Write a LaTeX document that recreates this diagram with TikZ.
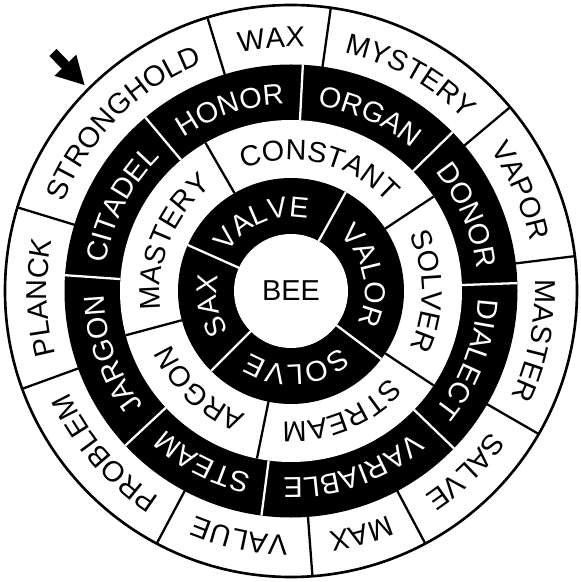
\documentclass[tikz,border=0pt]{standalone}
\usepackage{fontspec}
\setmainfont{Liberation Sans}
\usepackage{tikz}
\usetikzlibrary{arrows.meta, decorations.text}
\newcommand{\labelfont}{\fontsize{16.4}{19}\selectfont}
\tikzstyle{blackline} = [draw=black, line width=1.3pt]
\tikzstyle{whiteline} = [draw=white, line width=1.3pt]
\tikzstyle{rim}       = [draw=black, line width=1.5pt, fill=white]
\tikzstyle{arrow}     = [-{Triangle[length=16pt, width=16pt]}, line width=5.7pt]
\tikzset{ringtext/.style 2 args={decorate, decoration={text along path, text color=#1,
                         text align=center, text={|\labelfont|#2}}}}

\begin{document}
\begin{tikzpicture}[scale=0.02]
    \useasboundingbox (-291,-291) rectangle (289,291);

    % rings
    \draw[rim] (0,0) circle (286);
    \fill[black] (0,0) circle (226.5);
    \fill[white] (0,0) circle (171);
    \fill[black] (0,0) circle (113);
    \fill[white] (0,0) circle (57);

    % dividers
    \foreach \a in {7,40,82,107,163,200,242,274.3,298,330}
        \draw[blackline] (\a:226) -- (\a:286);
    \foreach \a in {2,44.5,87,130,176,223,262.5,316}
        \draw[whiteline] (\a:171) -- (\a:226.5);
    \foreach \a in {33.5,120,195,258.5,326.5}
        \draw[blackline] (\a:113) -- (\a:171);
    \foreach \a in {61,156,225,323}
        \draw[whiteline] (\a:57) -- (\a:113);

    \node (bee) at (0,0) {\labelfont BEE};

    % inner black ring
    \path[ringtext={white}{VALVE}] (160:74) arc (160:66:74);
    \path[ringtext={white}{VALOR}] (61:74) arc (61:-37:74);
    \path[ringtext={white}{SOLVE}] (-37:74) arc (-37:-135:74);
    \path[ringtext={white}{SAX}] (225:74) arc (225:156:74);

    % white ring
    \path[ringtext={black}{CONSTANT}] (120:131) arc (120:33.5:131);
    \path[ringtext={black}{SOLVER}] (33.5:131) arc (33.5:-33.5:131);
    \path[ringtext={black}{STREAM}] (-33.5:131) arc (-33.5:-101.5:131);
    \path[ringtext={black}{ARGON}] (258.5:131) arc (258.5:195:131);
    \path[ringtext={black}{MASTERY}] (195:131) arc (195:120:131);

    % outer black ring
    \path[ringtext={white}{ORGAN}] (87:187) arc (87:44.5:187);
    \path[ringtext={white}{DONOR}] (44.5:187) arc (44.5:2:187);
    \path[ringtext={white}{DIALECT}] (2:187) arc (2:-44:187);
    \path[ringtext={white}{VARIABLE}] (-44:187) arc (-44:-97.5:187);
    \path[ringtext={white}{STEAM}] (262.5:187) arc (262.5:223:187);
    \path[ringtext={white}{JARGON}] (223:187) arc (223:176:187);
    \path[ringtext={white}{CITADEL}] (176:187) arc (176:130:187);
    \path[ringtext={white}{HONOR}] (130:187) arc (130:87:187);

    % rim
    \path[ringtext={black}{WAX}] (107:244) arc (107:82:244);
    \path[ringtext={black}{MYSTERY}] (82:244) arc (82:40:244);
    \path[ringtext={black}{VAPOR}] (40:244) arc (40:7:244);
    \path[ringtext={black}{MASTER}] (7:244) arc (7:-30:244);
    \path[ringtext={black}{SALVE}] (-30:244) arc (-30:-62:244);
    \path[ringtext={black}{MAX}] (-62:244) arc (-62:-85.7:244);
    \path[ringtext={black}{VALUE}] (274.3:244) arc (274.3:242:244);
    \path[ringtext={black}{PROBLEM}] (242:244) arc (242:200:244);
    \path[ringtext={black}{PLANCK}] (200:244) arc (200:163:244);
    \path[ringtext={black}{STRONGHOLD}] (163:244) arc (163:107:244);

    \coordinate (tail) at (-238,238.5);
    \coordinate (tip) at (-206,205.5);
    \draw[arrow] (tail) -- (tip);
\end{tikzpicture}
\end{document}
